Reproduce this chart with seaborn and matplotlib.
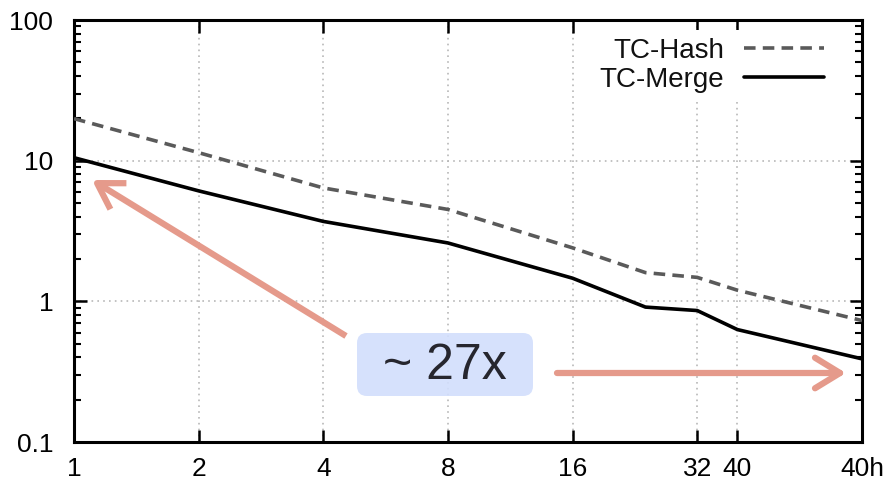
import matplotlib
matplotlib.use("Agg")
import matplotlib.pyplot as plt
from matplotlib.patches import FancyBboxPatch
from matplotlib.transforms import IdentityTransform
from matplotlib.ticker import LogLocator, NullLocator, FixedLocator, FixedFormatter, NullFormatter
import seaborn as sns
import pandas as pd

# ---- data ----
threads = [1, 2, 4, 8, 16, 24, 32, 40, 80]
tc_hash = [19.9, 11.4, 6.4, 4.5, 2.4, 1.6, 1.48, 1.2, 0.73]
tc_merge = [10.5, 6.1, 3.7, 2.6, 1.46, 0.91, 0.86, 0.63, 0.39]
x_ticks = [1, 2, 4, 8, 16, 32, 40, 80]
x_tick_labels = ["1", "2", "4", "8", "16", "32", "40", "40h"]
y_ticks = [0.1, 1, 10, 100]
y_tick_labels = ["0.1", "1", "10", "100"]
speedup_label = "~ 27x"

sns.set_theme(style="white")
plt.rcParams["font.family"] = ["Liberation Sans", "DejaVu Sans"]

W, H = 887, 484
fig = plt.figure(figsize=(W / 100, H / 100), dpi=100)
ax = fig.add_axes([74 / W, 1 - 442 / H, (862 - 74) / W, (442 - 20) / H])

df_hash = pd.DataFrame({"x": threads, "y": tc_hash})
df_merge = pd.DataFrame({"x": threads, "y": tc_merge})

sns.lineplot(data=df_hash, x="x", y="y", ax=ax, color="#5a5a5a", lw=2.6,
             linestyle=(0, (3.2, 2.0)), label="TC-Hash", zorder=3)
sns.lineplot(data=df_merge, x="x", y="y", ax=ax, color="black", lw=2.6,
             label="TC-Merge", zorder=3)

ax.set_xscale("log", base=2)
ax.set_yscale("log")
ax.set_xlim(1, 80)
ax.set_ylim(0.1, 100)

ax.xaxis.set_major_locator(FixedLocator(x_ticks))
ax.xaxis.set_major_formatter(FixedFormatter(x_tick_labels))
ax.xaxis.set_minor_locator(NullLocator())
ax.yaxis.set_major_locator(FixedLocator(y_ticks))
ax.yaxis.set_major_formatter(FixedFormatter(y_tick_labels))
ax.yaxis.set_minor_locator(LogLocator(base=10, subs=range(2, 10)))
ax.yaxis.set_minor_formatter(NullFormatter())

ax.set_xlabel("")
ax.set_ylabel("")

ax.tick_params(axis="both", which="both", direction="in", colors="black",
               top=True, right=True, left=True, bottom=True, labelsize=19)
ax.tick_params(axis="both", which="major", length=9, width=1.8)
ax.tick_params(axis="y", which="minor", length=5, width=1.5)
ax.tick_params(axis="y", which="major", pad=15)
ax.tick_params(axis="x", which="major", pad=11)

for s in ax.spines.values():
    s.set_color("black")
    s.set_linewidth(2.2)
    s.set_visible(True)

ax.grid(True, which="major", color="#b8b8b8", linestyle=(0, (1, 2.5)), lw=1.2)
ax.set_axisbelow(True)

leg = ax.legend(loc="upper right", bbox_to_anchor=(1 - 24 / 788, 1 - 4 / 422),
                markerfirst=False, frameon=True,
                fontsize=20, handlelength=2.9, handletextpad=0.7,
                borderaxespad=0.2, labelspacing=0.1, borderpad=0.3)
leg.get_frame().set_facecolor("white")
leg.get_frame().set_edgecolor("none")
leg.get_frame().set_alpha(1.0)
for t in leg.get_texts():
    t.set_color("#111111")

# ---- annotations (pixel coords, origin bottom-left) ----
def fx(px):
    return px / W

def fy(py):
    return 1 - py / H

arrow_col = "#e59a8b"
ax.annotate("", xy=(fx(92), fy(180)), xycoords="figure fraction",
            xytext=(fx(346), fy(336)), textcoords="figure fraction",
            arrowprops=dict(arrowstyle="->,head_length=0.9,head_width=0.55",
                            color=arrow_col, lw=4.5, mutation_scale=20,
                            shrinkA=0, shrinkB=0, capstyle="butt"),
            zorder=5)
ax.annotate("", xy=(fx(846), fy(373)), xycoords="figure fraction",
            xytext=(fx(557), fy(373)), textcoords="figure fraction",
            arrowprops=dict(arrowstyle="->,head_length=0.9,head_width=0.55",
                            color=arrow_col, lw=4.5, mutation_scale=20,
                            shrinkA=0, shrinkB=0),
            zorder=5)

box = FancyBboxPatch((357 + 10, H - 396 + 10), 176 - 20, 63 - 20,
                     boxstyle="round,pad=10", transform=IdentityTransform(),
                     facecolor="#d2defc", edgecolor="none", alpha=0.9, zorder=6)
fig.patches.append(box)
fig.text(fx(445), fy(366), speedup_label, ha="center", va="center",
         fontsize=36, color="#26262e", family=["Liberation Sans", "DejaVu Sans"],
         zorder=7)

fig.savefig("out.png", dpi=100)
